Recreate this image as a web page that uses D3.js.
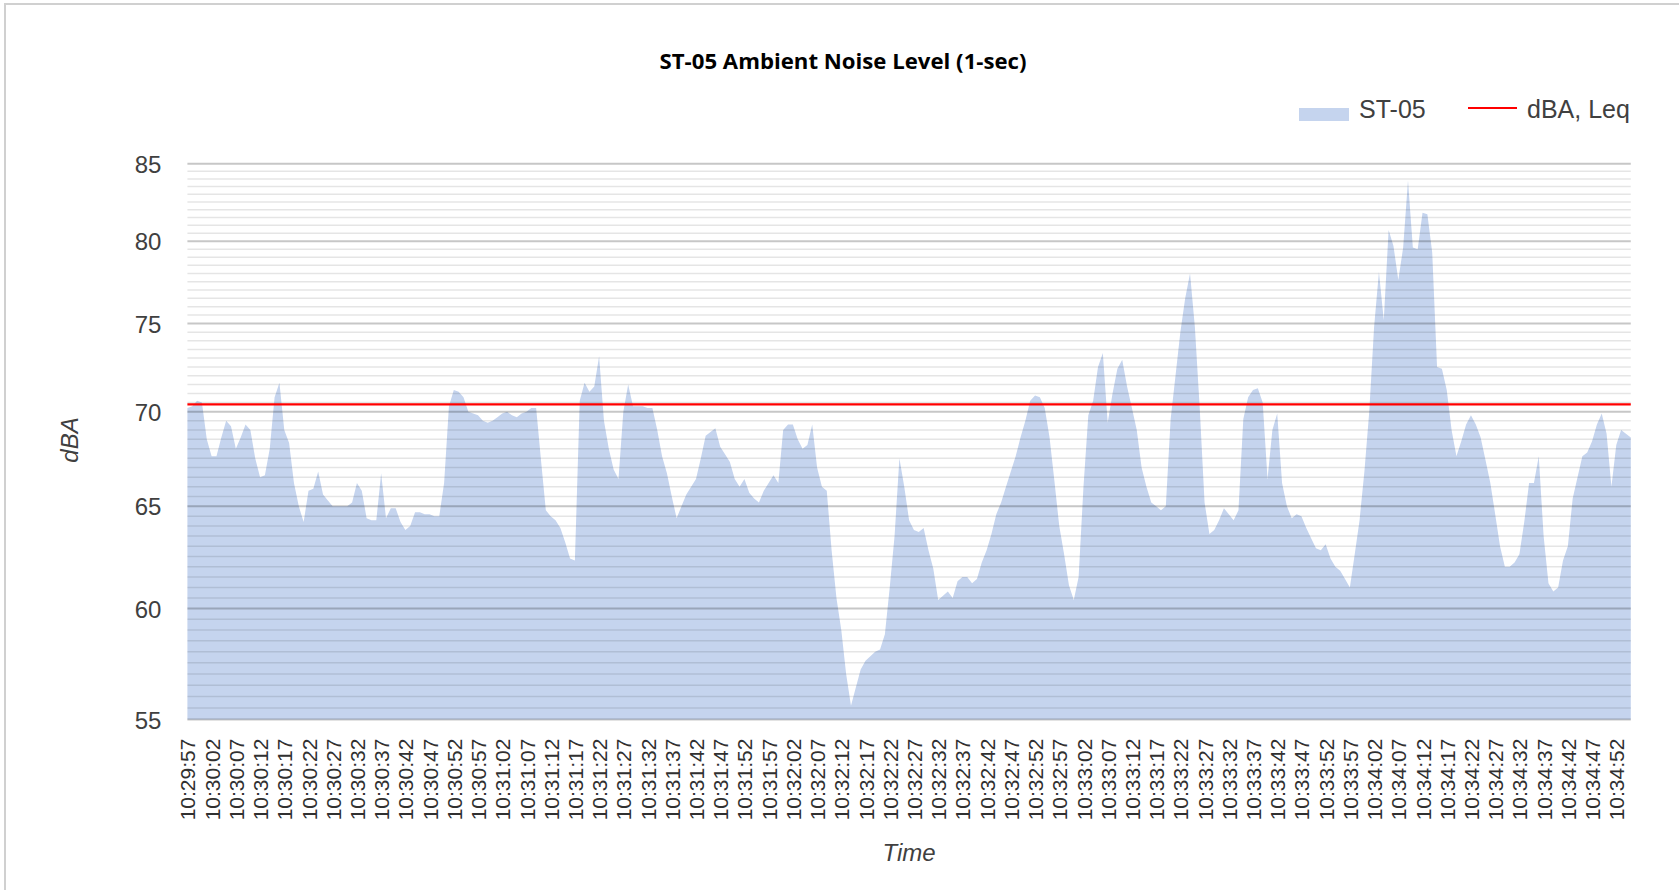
<!DOCTYPE html>
<html>
<head>
<meta charset="utf-8">
<script src="https://cdnjs.cloudflare.com/ajax/libs/d3/7.8.5/d3.min.js"></script>
<style>
body { margin: 0; background: #fff; }
</style>
</head>
<body>
<div id="main"></div>
<script>
// 1-sec levels (dBA), 10:29:57 -> 10:34:55
const levels = [
    70.2, 70.3, 70.6, 70.5, 68.5, 67.6, 67.6, 68.6, 69.5, 69.2,
    68.0, 68.6, 69.3, 69.0, 67.5, 66.5, 66.6, 68.0, 70.8, 71.6,
    69.0, 68.3, 66.2, 65.0, 64.2, 65.8, 65.9, 66.8, 65.6, 65.3,
    65.0, 65.0, 65.0, 65.0, 65.2, 66.2, 65.8, 64.4, 64.3, 64.3,
    66.7, 64.4, 64.9, 64.9, 64.2, 63.8, 64.0, 64.7, 64.7, 64.6,
    64.6, 64.5, 64.5, 66.2, 70.3, 71.2, 71.1, 70.8, 70.0, 69.9,
    69.8, 69.5, 69.4, 69.5, 69.7, 69.9, 70.0, 69.8, 69.7, 69.9,
    70.0, 70.2, 70.2, 67.4, 64.8, 64.5, 64.3, 63.9, 63.2, 62.4,
    62.3, 70.6, 71.6, 71.1, 71.4, 73.1, 69.5, 68.0, 66.9, 66.4,
    70.0, 71.5, 70.3, 70.3, 70.3, 70.2, 70.2, 69.0, 67.6, 66.7,
    65.5, 64.4, 65.0, 65.6, 66.0, 66.4, 67.5, 68.7, 68.9, 69.1,
    68.1, 67.7, 67.3, 66.4, 66.0, 66.4, 65.7, 65.4, 65.2, 65.8,
    66.2, 66.6, 66.2, 69.0, 69.3, 69.3, 68.5, 68.0, 68.2, 69.3,
    67.0, 66.0, 65.8, 62.8, 60.5, 59.0, 57.0, 55.6, 56.4, 57.2,
    57.6, 57.8, 58.0, 58.1, 58.8, 61.0, 63.5, 67.5, 66.0, 64.3,
    63.8, 63.7, 63.9, 62.8, 61.9, 60.4, 60.6, 60.8, 60.5, 61.3,
    61.5, 61.5, 61.2, 61.4, 62.2, 62.8, 63.6, 64.6, 65.2, 66.0,
    66.8, 67.6, 68.6, 69.5, 70.6, 70.9, 70.8, 70.2, 68.6, 66.3,
    64.0, 62.6, 61.1, 60.4, 61.5, 66.0, 69.8, 70.6, 72.5, 73.3,
    69.4, 71.0, 72.4, 72.9, 71.4, 70.2, 69.0, 67.0, 66.0, 65.2,
    65.0, 64.8, 65.0, 69.6, 72.0, 74.5, 76.5, 78.0, 74.8, 70.2,
    65.2, 63.6, 63.8, 64.3, 64.9, 64.6, 64.3, 64.8, 69.6, 70.8,
    71.2, 71.3, 70.5, 66.4, 69.0, 69.9, 66.2, 65.0, 64.4, 64.6,
    64.5, 63.9, 63.4, 62.9, 62.8, 63.1, 62.4, 62.0, 61.8, 61.4,
    61.0, 62.6, 64.3, 66.8, 70.0, 74.8, 78.1, 75.2, 80.7, 79.7,
    77.6, 79.6, 83.9, 79.6, 79.5, 81.8, 81.7, 79.3, 72.5, 72.4,
    71.2, 69.0, 67.6, 68.4, 69.3, 69.8, 69.3, 68.6, 67.4, 66.2,
    64.6, 63.0, 62.0, 62.0, 62.2, 62.6, 64.2, 66.2, 66.2, 67.6,
    63.5, 61.2, 60.8, 61.0, 62.3, 63.0, 65.4, 66.5, 67.6, 67.8,
    68.4, 69.3, 69.9, 68.8, 66.0, 68.2, 69.0, 68.8, 68.6
];

const leq = 70.4;

const tickLabels = [
    "10:29:57", "10:30:02", "10:30:07", "10:30:12", "10:30:17", "10:30:22",
    "10:30:27", "10:30:32", "10:30:37", "10:30:42", "10:30:47", "10:30:52",
    "10:30:57", "10:31:02", "10:31:07", "10:31:12", "10:31:17", "10:31:22",
    "10:31:27", "10:31:32", "10:31:37", "10:31:42", "10:31:47", "10:31:52",
    "10:31:57", "10:32:02", "10:32:07", "10:32:12", "10:32:17", "10:32:22",
    "10:32:27", "10:32:32", "10:32:37", "10:32:42", "10:32:47", "10:32:52",
    "10:32:57", "10:33:02", "10:33:07", "10:33:12", "10:33:17", "10:33:22",
    "10:33:27", "10:33:32", "10:33:37", "10:33:42", "10:33:47", "10:33:52",
    "10:33:57", "10:34:02", "10:34:07", "10:34:12", "10:34:17", "10:34:22",
    "10:34:27", "10:34:32", "10:34:37", "10:34:42", "10:34:47", "10:34:52"
];

const yTicks = [55, 60, 65, 70, 75, 80, 85];
const seriesNames = ["ST-05", "dBA, Leq"];

var ctx = {
    w: 1679,
    h: 890,
    left: 187.4,
    right: 1630.8,
    top: 163.8,
    bottom: 719.6,
    areaColor: "#c5d4ee",
    font: "'Liberation Sans', Arial, sans-serif",
};

var createViz = function () {
    var svg = d3.select("#main").append("svg")
        .attr("width", ctx.w)
        .attr("height", ctx.h)
        .style("display", "block");

    // chart frame
    svg.append("rect")
        .attr("x", 5).attr("y", 4)
        .attr("width", ctx.w + 10).attr("height", ctx.h + 10)
        .attr("fill", "#fff")
        .attr("stroke", "#d0d0d0")
        .attr("stroke-width", 2);

    var x = d3.scaleLinear()
        .domain([0, levels.length - 1])
        .range([ctx.left, ctx.right]);

    var y = d3.scaleLog()
        .domain([55, 85])
        .range([ctx.bottom, ctx.top]);

    // area series
    var area = d3.area()
        .x(function (d, i) { return x(i); })
        .y0(ctx.bottom)
        .y1(function (d) { return y(d); });

    svg.append("path")
        .datum(levels)
        .attr("d", area)
        .attr("fill", ctx.areaColor);

    // gridlines drawn over the area so they show through like the original
    var minor = d3.range(55.5, 85, 0.5).filter(function (v) { return v % 5 !== 0; });
    svg.append("g")
        .selectAll("line")
        .data(minor)
        .enter()
        .append("line")
        .attr("x1", ctx.left).attr("x2", ctx.right)
        .attr("y1", function (d) { return y(d); })
        .attr("y2", function (d) { return y(d); })
        .attr("stroke", "#000")
        .attr("stroke-opacity", 0.1)
        .attr("stroke-width", 1.5);

    svg.append("g")
        .selectAll("line")
        .data(yTicks)
        .enter()
        .append("line")
        .attr("x1", ctx.left).attr("x2", ctx.right)
        .attr("y1", function (d) { return y(d); })
        .attr("y2", function (d) { return y(d); })
        .attr("stroke", "#000")
        .attr("stroke-opacity", 0.22)
        .attr("stroke-width", 2);

    // Leq line
    svg.append("line")
        .attr("x1", ctx.left).attr("x2", ctx.right)
        .attr("y1", y(leq)).attr("y2", y(leq))
        .attr("stroke", "#ff0000")
        .attr("stroke-width", 2.2);

    // y axis
    var yAxis = svg.append("g")
        .attr("transform", "translate(" + (ctx.left - 26) + ",0)")
        .call(d3.axisLeft(y).tickValues(yTicks).tickSize(0).tickFormat(d3.format("d")));
    yAxis.select(".domain").remove();
    yAxis.selectAll("text")
        .attr("x", 0)
        .attr("dy", "0.36em")
        .style("font-family", ctx.font)
        .style("font-size", "24px")
        .attr("fill", "#404040");

    // x axis
    var xAxis = svg.append("g")
        .attr("transform", "translate(0," + ctx.bottom + ")")
        .call(d3.axisBottom(x)
            .tickValues(d3.range(0, tickLabels.length * 5, 5))
            .tickSize(0)
            .tickFormat(function (d) { return tickLabels[d / 5]; }));
    xAxis.select(".domain").remove();
    xAxis.selectAll("text")
        .attr("transform", "rotate(-90)")
        .attr("x", -19)
        .attr("y", 0)
        .attr("dy", "0.36em")
        .attr("text-anchor", "end")
        .style("font-family", ctx.font)
        .style("font-size", "21px")
        .attr("fill", "#303030");

    // titles
    svg.append("text")
        .attr("x", 843).attr("y", 69)
        .attr("text-anchor", "middle")
        .attr("textLength", 367)
        .attr("lengthAdjust", "spacingAndGlyphs")
        .style("font-family", "'Open Sans', Lato, sans-serif")
        .style("font-weight", "bold")
        .style("font-size", "22px")
        .attr("fill", "#000")
        .text("ST-05 Ambient Noise Level (1-sec)");

    svg.append("text")
        .attr("x", 909).attr("y", 861)
        .attr("text-anchor", "middle")
        .style("font-family", ctx.font)
        .style("font-style", "italic")
        .style("font-size", "24px")
        .attr("fill", "#404040")
        .text("Time");

    svg.append("text")
        .attr("transform", "translate(78,440) rotate(-90)")
        .attr("text-anchor", "middle")
        .style("font-family", ctx.font)
        .style("font-style", "italic")
        .style("font-size", "24px")
        .attr("fill", "#404040")
        .text("dBA");

    // legend
    var legend = svg.append("g");
    legend.append("rect")
        .attr("x", 1299).attr("y", 108)
        .attr("width", 50).attr("height", 13)
        .attr("fill", ctx.areaColor);
    legend.append("text")
        .attr("x", 1359).attr("y", 118)
        .style("font-family", ctx.font)
        .style("font-size", "25px")
        .attr("fill", "#404040")
        .text(seriesNames[0]);
    legend.append("line")
        .attr("x1", 1468).attr("x2", 1517)
        .attr("y1", 108).attr("y2", 108)
        .attr("stroke", "#ff0000")
        .attr("stroke-width", 2.2);
    legend.append("text")
        .attr("x", 1527).attr("y", 118)
        .style("font-family", ctx.font)
        .style("font-size", "25px")
        .attr("fill", "#404040")
        .text(seriesNames[1]);
};

createViz();
</script>
</body>
</html>
